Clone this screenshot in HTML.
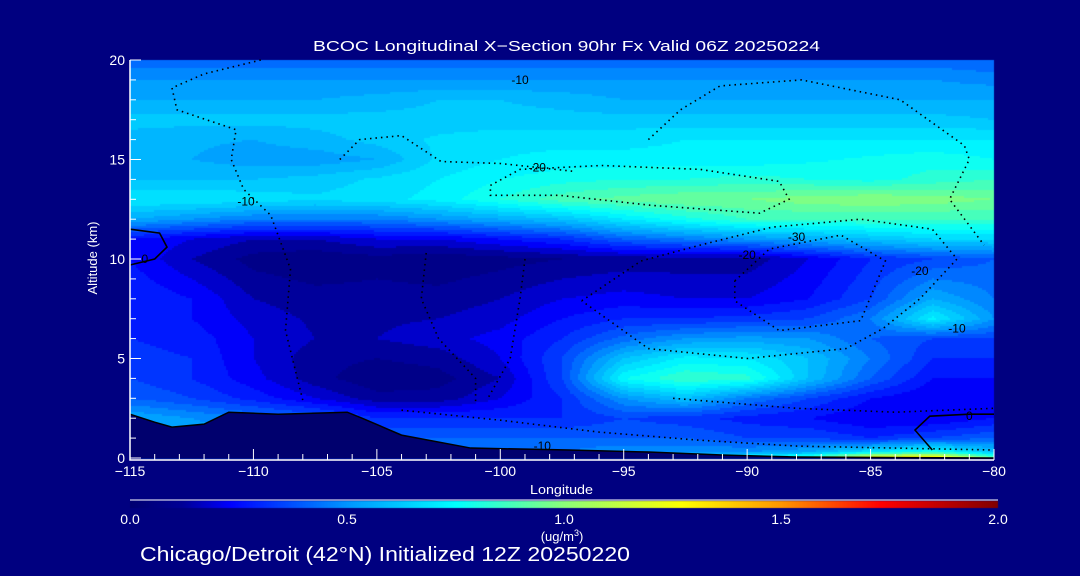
<!DOCTYPE html>
<html><head><meta charset="utf-8"><style>
html,body{margin:0;padding:0;background:#000080;width:1080px;height:576px;overflow:hidden}
#root{position:relative;width:1080px;height:576px}
canvas,svg{position:absolute;left:0;top:0}
text{font-family:"Liberation Sans",sans-serif;fill:#fff}
</style></head><body>
<div id="root">
<canvas id="cv" width="1080" height="576"></canvas>
<svg id="sv" width="1080" height="576"></svg>
</div>
<script>
const lons=[-115,-112.5,-110,-107.5,-105,-102.5,-100,-97.5,-95,-92.5,-90,-87.5,-85,-82.5,-80];
const alts=[0,0.3,1,2,3,4,5,6,7,8,10,11,12,13,14,15,16,17,18,19,20];
const r0=[.6,.55,.5,.45,.45,.5,.55,.55,.6,.7,.8,.9,1.3,1.4,.9];
const r03=[.6,.55,.5,.45,.45,.45,.45,.45,.5,.5,.5,.55,.7,.8,.6];
const r1=[.6,.55,.5,.45,.4,.4,.4,.4,.4,.4,.35,.35,.3,.35,.4];
const r2=[.55,.5,.45,.4,.3,.3,.3,.3,.35,.32,.28,.25,.2,.2,.25];
const r3=[.4,.35,.28,.2,.12,.12,.2,.3,.5,.6,.45,.35,.25,.2,.2];
const r4=[.35,.3,.22,.12,.06,.08,.15,.35,.75,.85,.82,.6,.4,.25,.25];
const r5=[.32,.3,.2,.12,.1,.12,.2,.35,.6,.72,.7,.6,.45,.3,.3];
const r6=[.3,.28,.2,.15,.15,.18,.22,.3,.42,.5,.52,.5,.4,.35,.35];
const r7=[.3,.25,.18,.14,.14,.15,.18,.25,.3,.3,.32,.35,.45,.72,.5];
const r8=[.3,.25,.15,.12,.12,.12,.15,.2,.22,.2,.2,.25,.35,.55,.45];
const r10=[.25,.15,.08,.06,.08,.06,.08,.1,.12,.12,.12,.2,.3,.35,.4];
const r11=[.25,.2,.15,.15,.2,.2,.25,.3,.4,.45,.5,.55,.6,.65,.65];
const r12=[.55,.5,.45,.45,.45,.5,.55,.6,.7,.78,.85,.85,.85,.85,.85];
const r13=[.7,.7,.68,.66,.68,.72,.8,.88,.92,.95,.95,.98,1.0,.98,.95];
const r14=[.6,.6,.6,.62,.66,.7,.75,.78,.8,.8,.82,.8,.78,.82,.85];
const r15=[.55,.55,.52,.52,.55,.66,.7,.72,.72,.72,.72,.74,.76,.78,.75];
const r16=[.58,.56,.55,.58,.62,.66,.68,.68,.68,.7,.7,.7,.7,.7,.7];
const r17=[.62,.62,.62,.62,.62,.62,.62,.62,.62,.62,.62,.62,.62,.62,.6];
const r18=[.55,.55,.55,.55,.57,.6,.6,.58,.55,.55,.55,.55,.55,.55,.55];
const r19=[.5,.5,.5,.5,.5,.5,.5,.5,.5,.5,.5,.5,.5,.5,.48];
const r20=[.42,.42,.42,.42,.42,.42,.42,.42,.42,.42,.42,.42,.42,.42,.4];
const grid=[r0,r03,r1,r2,r3,r4,r5,r6,r7,r8,r10,r11,r12,r13,r14,r15,r16,r17,r18,r19,r20];
const terrLon=[-115,-114,-113.3,-112,-111,-109,-106.2,-105.6,-104,-101.2,-97.2,-94,-91,-88,-80];
const terrAlt=[2.2,1.8,1.55,1.7,2.3,2.2,2.3,2.0,1.15,0.5,0.4,0.3,0.15,0.05,0];
const xTicks=[-115,-110,-105,-100,-95,-90,-85,-80];
const yTicks=[0,5,10,15,20];
const cbTicks=["0.0","0.5","1.0","1.5","2.0"];
const contours=[
 {dash:true,pts:[[-109.7,20],[-112,19.3],[-113.3,18.6],[-113.1,17.5],[-110.7,16.5],[-110.9,15],[-110.4,13.5],[-109.3,12.2],[-108.5,9.5],[-108.7,6.4],[-108,2.9]]},
 {dash:true,pts:[[-100.4,13.7],[-99.2,14.5],[-95.9,14.7],[-91.9,14.5],[-88.7,13.9],[-88.3,13.0],[-89.5,12.3],[-93.9,12.7],[-97.6,13.2],[-100.4,13.2],[-100.4,13.7]]},
 {dash:true,pts:[[-90.5,8.9],[-89.1,10.5],[-86.2,11.2],[-84.4,9.9],[-85.4,6.9],[-88.7,6.4],[-90.5,7.9],[-90.5,8.9]]},
 {dash:true,pts:[[-96.7,7.9],[-94.3,9.9],[-91.9,10.7],[-89,11.6],[-85.4,12],[-82.5,11.5],[-81.5,10],[-83,8],[-84.5,6.5],[-86,5.5],[-90,5],[-94,5.5],[-96.7,7.9]]},
 {dash:true,pts:[[-94,16],[-92.7,17.5],[-91.1,18.7],[-87.8,19],[-83.8,18],[-81.2,15.7],[-81,15],[-81.8,13],[-80.4,10.7]]},
 {dash:true,pts:[[-106.5,15],[-105.7,16],[-104,16.2],[-102.4,14.9],[-100,14.8],[-97,14.4]]},
 {dash:true,pts:[[-103,10.3],[-103.2,8],[-102.5,6],[-101,4],[-101,2.7]]},
 {dash:true,pts:[[-99,10],[-99.2,8],[-99.6,5],[-100.5,3]]},
 {dash:true,pts:[[-104,2.4],[-100,1.9],[-96,1.3],[-92,0.9],[-88,0.6],[-84,0.5],[-80,0.4]]},
 {dash:true,pts:[[-93,3],[-88,2.5],[-84,2.3],[-80,2.5]]},
 {dash:false,pts:[[-115,11.5],[-113.8,11.3],[-113.5,10.6],[-114,10],[-115,9.7]]},
 {dash:false,pts:[[-82.5,0.4],[-83.2,1.4],[-82.6,2.1],[-81,2.2],[-80,2.2]]}
];
const labels=[["-10",-99.2,19],["-10",-110.3,12.9],["-20",-98.5,14.6],["-30",-88,11.1],["-20",-90,10.2],["-20",-83,9.4],["-10",-81.5,6.5],["0",-81,2.1],["-10",-98.3,0.6],["0",-114.4,10]];

const X0=130,X1=994,Y0=458,Y1=60;
const xs=l=>X0+(l-(-115))/35*(X1-X0);
const ys=a=>Y0+(a/20)*(Y1-Y0);
function interp(arr,v){let i=0;while(i<arr.length-2&&v>arr[i+1])i++;return [i,(v-arr[i])/(arr[i+1]-arr[i])];}
function val(l,a){const [i,fx]=interp(lons,l),[j,fy]=interp(alts,a);
 const v00=grid[j][i],v10=grid[j][i+1],v01=grid[j+1][i],v11=grid[j+1][i+1];
 return (v00*(1-fx)+v10*fx)*(1-fy)+(v01*(1-fx)+v11*fx)*fy;}
const stops=[[0,[0,0,112]],[0.12,[0,0,150]],[0.23,[0,0,255]],[0.5,[0,150,255]],[0.75,[0,255,255]],[1.0,[140,255,120]],[1.27,[255,255,0]],[1.5,[255,150,0]],[1.73,[255,0,0]],[2.0,[128,0,0]]];
function cmap(v){v=Math.max(0,Math.min(2,v));for(let k=0;k<stops.length-1;k++){const a=stops[k],b=stops[k+1];if(v<=b[0]){const t=(v-a[0])/(b[0]-a[0]);return `rgb(${a[1].map((c,n)=>Math.round(c+(b[1][n]-c)*t)).join(',')})`;}}return 'rgb(128,0,0)';}
const cv=document.getElementById('cv'),ctx=cv.getContext('2d');
const step=2;
for(let px=X0;px<X1;px+=step){for(let py=Y1;py<Y0;py+=step){
 const l=-115+(px+step/2-X0)/(X1-X0)*35,a=(Y0-(py+step/2))/(Y0-Y1)*20;
 let v=val(l,a);v=Math.floor(v/0.05)*0.05+0.025;
 ctx.fillStyle=cmap(v);ctx.fillRect(px,py,step,step);}}
for(let px=130;px<998;px++){ctx.fillStyle=cmap((px-130)/868*2);ctx.fillRect(px,501,1,7);}
const NS='http://www.w3.org/2000/svg',sv=document.getElementById('sv');
function mk(tag,at,parent){const e=document.createElementNS(NS,tag);for(const k in at)e.setAttribute(k,at[k]);(parent||sv).appendChild(e);return e;}
let d=`M${xs(terrLon[0])},${Y0} `+terrLon.map((l,i)=>`L${xs(l)},${ys(terrAlt[i])}`).join(' ')+` L${X1},${Y0} Z`;
const terr=mk('path',{d:d,fill:'#00006e'});


const tl=mk('path',{d:terrLon.map((l,i)=>`${i?'L':'M'}${xs(l)},${ys(terrAlt[i])}`).join(' '),fill:'none',stroke:'#000',"stroke-width":1.5});


contours.forEach((c,k)=>{
 const p=mk('path',{d:c.pts.map((q,i)=>`${i?'L':'M'}${xs(q[0]).toFixed(1)},${ys(q[1]).toFixed(1)}`).join(' '),fill:'none',stroke:'#000',"stroke-width":1.6,"stroke-dasharray":c.dash?'1.5 4':'none'});
 
 
});
labels.forEach(q=>{const t=mk('text',{x:xs(q[1]),y:ys(q[2])+4,"font-size":12,"text-anchor":"middle",style:"fill:#000"});t.textContent=q[0];
 
 });
const ax=mk('path',{d:`M${X0},${Y1} L${X0},${Y0+2} L${X1},${Y0+2}`,fill:'none',stroke:'#fff',"stroke-width":1.5});


for(let l=-115;l<=-80;l++){const maj=(l%5===0);const t=mk('line',{x1:xs(l),x2:xs(l),y1:Y0+2,y2:Y0+2-(maj?11:6),stroke:'#fff'});
 
 }
for(let a=0;a<=20;a++){const maj=(a%5===0);const t=mk('line',{x1:X0,x2:X0+(maj?11:6),y1:ys(a),y2:ys(a),stroke:'#fff'});
 
 }
xTicks.forEach(l=>{const t=mk('text',{x:xs(l),y:476,"font-size":14,"text-anchor":"middle"});t.textContent=String(l).replace('-','\u2212');
 
 });
yTicks.forEach(a=>{const t=mk('text',{x:125,y:ys(a)+5,"font-size":14,"text-anchor":"end"});t.textContent=a;
 
 });
const cbl=mk('line',{x1:130,x2:998,y1:500,y2:500,stroke:'#fff'});


cbTicks.forEach((s,i)=>{const t=mk('text',{x:130+i*217,y:524,"font-size":14,"text-anchor":"middle"});t.textContent=s;
 
 });
</script>
<svg width="1080" height="576" style="position:absolute;left:0;top:0">
<text x="313" y="51" font-size="15" textLength="507" lengthAdjust="spacingAndGlyphs">BCOC Longitudinal X−Section 90hr  Fx Valid 06Z 20250224</text>
<text x="530" y="494" font-size="13" textLength="63" lengthAdjust="spacingAndGlyphs">Longitude</text>
<text transform="translate(97,258) rotate(-90)" font-size="13" text-anchor="middle">Altitude (km)</text>
<text x="562" y="541" font-size="13" text-anchor="middle">(ug/m<tspan font-size="9" dy="-5">3</tspan><tspan dy="5">)</tspan></text>
<text x="140" y="561" font-size="20" textLength="490" lengthAdjust="spacingAndGlyphs">Chicago/Detroit (42°N) Initialized 12Z 20250220</text>
</svg>
</body></html>
